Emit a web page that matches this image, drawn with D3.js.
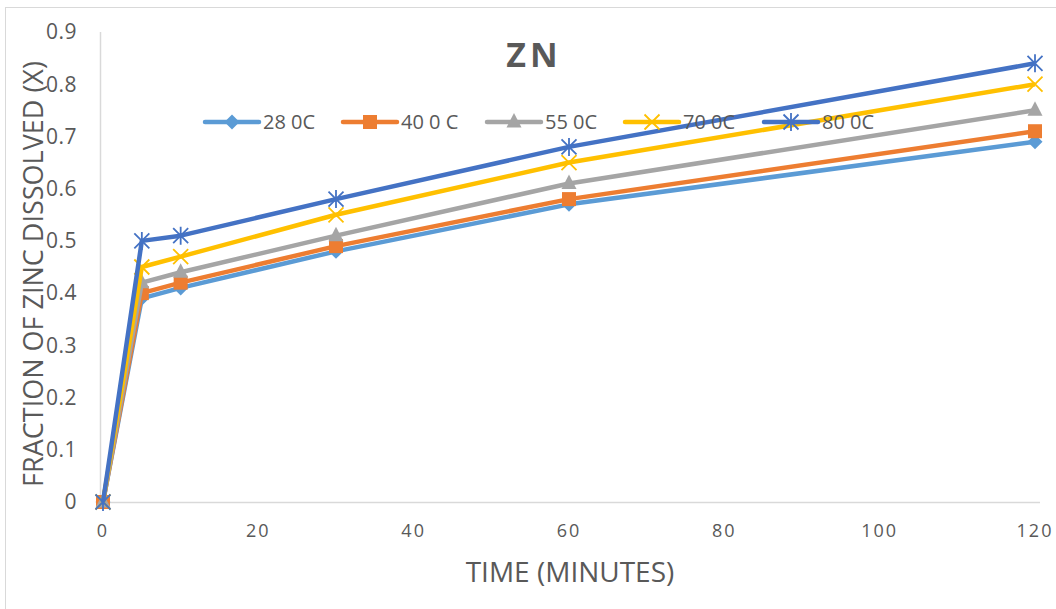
<!DOCTYPE html>
<html>
<head>
<meta charset="utf-8">
<script src="https://cdn.jsdelivr.net/npm/d3@7"></script>
<style>
	body { margin: 0; background: #fff; }
	text { font-family: 'Open Sans', sans-serif; fill: #595959; }
</style>
</head>
<body>
<div id="chart"></div>
<script>
// time points (minutes)
const times = [0, 5, 10, 30, 60, 120];
const seriesNames = ['28 0C', '40 0 C', '55 0C', '70 0C', '80 0C'];
const series28 = [0, 0.39, 0.41, 0.48, 0.57, 0.69];
const series40 = [0, 0.40, 0.42, 0.49, 0.58, 0.71];
const series55 = [0, 0.42, 0.44, 0.51, 0.61, 0.75];
const series70 = [0, 0.45, 0.47, 0.55, 0.65, 0.80];
const series80 = [0, 0.50, 0.51, 0.58, 0.68, 0.84];
const xTicks = [0, 20, 40, 60, 80, 100, 120];
const yTicks = [0, 0.1, 0.2, 0.3, 0.4, 0.5, 0.6, 0.7, 0.8, 0.9];

const colors = ['#5b9bd5', '#ed7d31', '#a5a5a5', '#ffc000', '#4472c4'];
const markers = ['diamond', 'square', 'triangle', 'x', 'star'];
const allSeries = [series28, series40, series55, series70, series80];

const width = 1056;
const height = 609;

const svg = d3.select('#chart')
	.append('svg')
	.attr('width', width)
	.attr('height', height);

// chart border
svg.append('rect')
	.attr('x', 5.5).attr('y', 7.5)
	.attr('width', 1060).attr('height', 610)
	.attr('fill', 'none')
	.attr('stroke', '#d9d9d9');

const x = d3.scaleLinear().domain([0, 120]).range([103, 1035]);
const y = d3.scaleLinear().domain([0, 0.9]).range([502, 32]);

// axis lines
svg.append('line')
	.attr('x1', 100.5).attr('x2', 100.5)
	.attr('y1', y(0.9)).attr('y2', y(0))
	.attr('stroke', '#d9d9d9').attr('stroke-width', 1.5);
svg.append('line')
	.attr('x1', 100).attr('x2', 1040)
	.attr('y1', y(0) + 0.5).attr('y2', y(0) + 0.5)
	.attr('stroke', '#d9d9d9').attr('stroke-width', 1.5);

// tick labels
svg.append('g').selectAll('text')
	.data(yTicks)
	.enter()
	.append('text')
	.attr('x', 77)
	.attr('y', d => y(d))
	.attr('dy', '0.35em')
	.attr('text-anchor', 'end')
	.style('font-size', '21px')
	.style('letter-spacing', '0.5px')
	.text(d => d3.format('.1~f')(d));

svg.append('g').selectAll('text')
	.data(xTicks)
	.enter()
	.append('text')
	.attr('x', d => x(d))
	.attr('y', 531)
	.attr('dy', '0.35em')
	.attr('text-anchor', 'middle')
	.style('font-size', '18px')
	.style('letter-spacing', '2px')
	.text(d => d);

// titles
svg.append('text')
	.attr('x', 534).attr('y', 67)
	.attr('text-anchor', 'middle')
	.style('font-size', '34px')
	.style('font-weight', 'bold')
	.style('letter-spacing', '4px')
	.text('ZN');

svg.append('text')
	.attr('x', 570).attr('y', 582)
	.attr('text-anchor', 'middle')
	.style('font-size', '28px')
	.text('TIME (MINUTES)');

svg.append('text')
	.attr('transform', 'translate(43,274) rotate(-90)')
	.attr('text-anchor', 'middle')
	.style('font-size', '27px')
	.text('FRACTION OF ZINC DISSOLVED (X)');

// draws a marker of the given type at (0,0) inside group g
function drawMarker(g, type, color) {
	if (type === 'diamond') {
		g.append('path').attr('d', 'M0,-7.5L7.5,0L0,7.5L-7.5,0Z').attr('fill', color);
	} else if (type === 'square') {
		g.append('rect').attr('x', -7).attr('y', -7)
			.attr('width', 14).attr('height', 14).attr('fill', color);
	} else if (type === 'triangle') {
		g.append('path').attr('d', 'M0,-9L7.5,5.5L-7.5,5.5Z').attr('fill', color);
	} else if (type === 'x') {
		g.append('path').attr('d', 'M-7.5,-7.5L7.5,7.5M7.5,-7.5L-7.5,7.5')
			.attr('stroke', color).attr('stroke-width', 1.8).attr('fill', 'none');
	} else if (type === 'star') {
		g.append('path').attr('d', 'M-7.5,-7.5L7.5,7.5M7.5,-7.5L-7.5,7.5M0,-9L0,9')
			.attr('stroke', color).attr('stroke-width', 1.8).attr('fill', 'none');
	}
}

const line = d3.line()
	.x(d => x(d[0]))
	.y(d => y(d[1]));

allSeries.forEach((values, i) => {
	const pts = times.map((t, j) => [t, values[j]]);
	const g = svg.append('g').attr('class', 'series');
	g.append('path')
		.datum(pts)
		.attr('d', line)
		.attr('fill', 'none')
		.attr('stroke', colors[i])
		.attr('stroke-width', 4.5)
		.attr('stroke-linejoin', 'round');
	pts.forEach(p => {
		const m = g.append('g').attr('transform', `translate(${x(p[0])},${y(p[1])})`);
		drawMarker(m, markers[i], colors[i]);
	});
});

// legend
const legendX = [205, 343, 487, 625, 764];
const legend = svg.append('g')
	.selectAll('g')
	.data(seriesNames)
	.enter()
	.append('g')
	.attr('transform', (d, i) => `translate(${legendX[i]},122)`);

legend.append('line')
	.attr('x1', 0).attr('x2', 54)
	.attr('stroke', (d, i) => colors[i])
	.attr('stroke-width', 4.5)
	.attr('stroke-linecap', 'round');

legend.each(function (d, i) {
	const m = d3.select(this).append('g').attr('transform', 'translate(27,0)');
	drawMarker(m, markers[i], colors[i]);
});

legend.append('text')
	.attr('x', 58)
	.attr('dy', '0.35em')
	.style('font-size', '20px')
	.text(d => d);
</script>
</body>
</html>
